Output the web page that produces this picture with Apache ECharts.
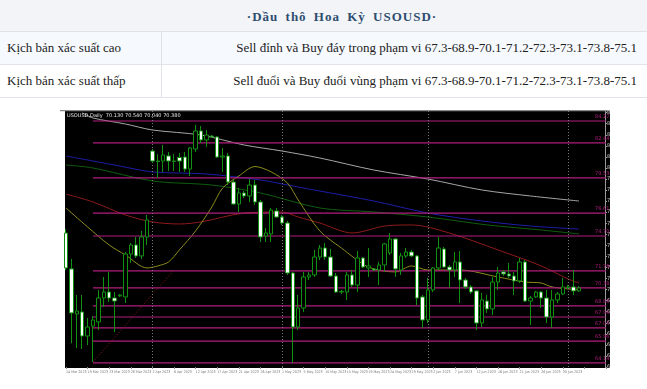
<!DOCTYPE html>
<html><head><meta charset="utf-8">
<script src="https://cdn.jsdelivr.net/npm/echarts/dist/echarts.min.js"></script>
<style>
html,body{margin:0;padding:0;width:647px;height:389px;overflow:hidden;background:#fff;}
#chart{position:absolute;left:0;top:0;width:647px;height:389px;}
.row{position:absolute;left:0;width:647px;box-sizing:border-box;font-family:"Liberation Serif","DejaVu Serif",serif;}
#r1{top:0;height:32px;background:#f2f4f7;border-bottom:1px solid #dfe3e8;text-align:center;line-height:32px;}
#r1 span{display:inline-block;padding-left:37px;font-weight:bold;font-size:13px;color:#2e4d6f;letter-spacing:1px;word-spacing:3px;}
#r2{top:32px;height:33px;background:#f6f9fe;border-bottom:1px solid #e1e5ea;}
#r3{top:65px;height:33px;background:#ffffff;border-bottom:1px solid #e1e5ea;}
.l{position:absolute;left:7px;top:0;line-height:32px;font-size:13px;color:#222;}
.r{position:absolute;right:10px;top:0;line-height:32px;font-size:13px;color:#222;}
#div{position:absolute;left:161px;top:32px;width:1px;height:66px;background:#dfe3e8;}
</style></head><body>
<div id="chart"></div>
<div class="row" id="r1"><span>·Dầu thô Hoa Kỳ USOUSD·</span></div>
<div class="row" id="r2"><div class="l">Kịch bản xác suất cao</div><div class="r">Sell đỉnh và Buy đáy trong phạm vi 67.3-68.9-70.1-71.2-72.3-73.1-73.8-75.1</div></div>
<div class="row" id="r3"><div class="l">Kịch bản xác suất thấp</div><div class="r">Sell đuổi và Buy đuổi vùng phạm vi 67.3-68.9-70.1-71.2-72.3-73.1-73.8-75.1</div></div>
<div id="div"></div>
<script>
// ---- data ----
const dates = [
 '14 Mar 2023','15 Mar 2023','16 Mar 2023','17 Mar 2023','19 Mar 2023','20 Mar 2023','21 Mar 2023','22 Mar 2023','23 Mar 2023','24 Mar 2023','26 Mar 2023','27 Mar 2023','28 Mar 2023','29 Mar 2023','30 Mar 2023','31 Mar 2023',
 '2 Apr 2023','3 Apr 2023','4 Apr 2023','5 Apr 2023','6 Apr 2023','9 Apr 2023','10 Apr 2023','11 Apr 2023','12 Apr 2023','13 Apr 2023','14 Apr 2023','16 Apr 2023','17 Apr 2023','18 Apr 2023','19 Apr 2023','20 Apr 2023','21 Apr 2023','23 Apr 2023','24 Apr 2023','25 Apr 2023','26 Apr 2023','27 Apr 2023','28 Apr 2023','30 Apr 2023',
 '1 May 2023','2 May 2023','3 May 2023','4 May 2023','5 May 2023','7 May 2023','8 May 2023','9 May 2023','10 May 2023','11 May 2023','12 May 2023','14 May 2023','15 May 2023','16 May 2023','17 May 2023','18 May 2023','19 May 2023','21 May 2023','22 May 2023','23 May 2023','24 May 2023','25 May 2023','26 May 2023','28 May 2023','29 May 2023','30 May 2023','31 May 2023',
 '1 Jun 2023','2 Jun 2023','4 Jun 2023','5 Jun 2023','6 Jun 2023','7 Jun 2023','8 Jun 2023','9 Jun 2023','11 Jun 2023','12 Jun 2023','13 Jun 2023','14 Jun 2023','15 Jun 2023','16 Jun 2023','18 Jun 2023','19 Jun 2023','20 Jun 2023','21 Jun 2023','22 Jun 2023','23 Jun 2023','25 Jun 2023','26 Jun 2023','27 Jun 2023','28 Jun 2023','29 Jun 2023','30 Jun 2023',
 '2 Jul 2023','3 Jul 2023','4 Jul 2023'
];
const blanks = [' ','  ','   ','    ','     '];
// [open, close, low, high]
const ohlc = [
 [74.95,72.04,71.87,75.28],[71.96,68.30,65.78,72.79],[68.21,68.46,65.38,69.79],[68.38,66.38,65.30,69.79],[66.38,67.13,65.63,67.88],
 [67.21,67.71,64.22,68.05],[67.55,69.54,66.88,70.21],[69.54,70.04,68.79,71.29],[70.04,69.54,69.21,71.71],[69.54,69.29,66.71,70.04],
 [69.71,69.79,69.63,69.88],[69.63,73.20,69.13,73.37],[73.20,73.95,72.46,74.12],[73.95,73.04,72.87,74.62],[73.04,74.62,72.79,75.12],
 [74.62,76.03,73.95,76.45],[81.77,80.94,80.77,81.94],[80.94,80.90,79.53,81.52],[80.94,81.44,80.03,82.27],[81.36,80.94,80.11,81.69],
 [80.90,80.94,80.11,81.52],[81.23,80.94,80.03,81.61],[81.27,80.27,80.03,81.69],[80.27,82.02,79.69,82.11],[81.94,83.44,81.69,83.94],
 [83.44,82.69,82.44,83.85],[82.69,83.10,82.11,83.52],[83.02,82.94,82.85,83.10],[82.94,81.27,81.19,83.02],[81.27,81.36,80.03,82.02],
 [81.36,79.19,78.94,81.61],[79.19,77.36,77.28,79.36],[77.36,78.28,76.70,78.69],[78.28,78.03,77.86,78.44],[78.03,78.94,77.53,79.44],
 [78.94,77.53,77.28,79.36],[77.53,74.62,74.20,77.70],[74.70,74.95,74.20,75.37],[74.87,76.86,74.20,77.03],[76.78,76.28,76.20,77.03],
 [76.28,75.78,75.62,76.45],[75.78,71.62,71.46,75.95],[71.62,67.13,64.14,71.71],[67.13,68.71,66.88,69.79],[68.71,71.29,68.38,71.71],
 [71.29,71.46,71.04,71.71],[71.46,72.95,71.29,73.54],[72.95,73.70,72.70,73.95],[73.70,72.95,72.70,74.12],[72.95,71.37,71.29,73.62],
 [71.37,70.04,69.96,71.62],[70.04,70.09,69.88,70.21],[70.04,71.46,69.38,71.71],[71.46,70.62,70.46,71.87],[70.62,72.87,70.04,73.45],
 [72.87,72.12,72.04,72.95],[72.04,72.21,71.29,73.70],[71.96,71.87,71.79,72.04],[71.87,72.29,70.62,72.54],[72.29,74.04,71.71,74.12],
 [73.29,74.45,73.12,74.95],[74.45,71.96,71.29,74.54],[71.87,73.04,71.46,73.29],[73.04,73.37,72.87,73.70],[73.37,73.04,72.95,73.54],
 [73.04,69.54,68.96,73.12],[69.63,67.71,67.05,69.79],[67.71,70.21,67.46,71.21],[70.21,72.04,70.04,72.12],[72.04,73.70,71.87,74.62],
 [73.62,72.12,72.04,73.79],[72.12,71.87,70.38,72.29],[71.87,72.54,71.29,73.37],[72.54,71.04,69.13,73.45],[71.04,70.46,70.29,71.21],
 [70.46,70.04,69.88,70.62],[70.13,67.46,66.88,70.21],[67.46,69.38,67.13,69.96],[69.29,68.63,68.30,69.79],[68.63,70.87,68.13,71.29],
 [70.87,71.62,70.21,72.12],[71.71,71.54,71.37,71.87],[71.54,71.37,71.21,72.46],[71.37,70.96,69.79,71.71],[70.96,72.54,70.79,72.87],
 [72.54,69.29,69.21,72.70],[69.29,69.54,67.30,69.71],[69.63,70.04,69.54,70.13],[70.04,69.54,68.71,70.13],[69.54,67.96,67.46,70.21],
 [67.96,69.38,67.05,70.21],[69.38,69.88,69.13,70.04],[69.88,70.46,69.79,71.21],[70.42,70.46,70.29,70.62],[70.46,70.13,69.79,71.87],
 [70.13,70.38,70.04,70.54]
];
const maGray = [['17 Mar 2023',84.95],['20 Mar 2023',84.52],['27 Mar 2023',84.02],['2 Apr 2023',83.52],['13 Apr 2023',83.10],['23 Apr 2023',82.27],['1 May 2023',81.77],['9 May 2023',81.19],['21 May 2023',80.19],['1 Jun 2023',79.44],['13 Jun 2023',78.53],['23 Jun 2023',78.03],['4 Jul 2023',77.61]];
const maBlue = [['14 Mar 2023',81.36],['20 Mar 2023',80.94],['26 Mar 2023',80.52],['2 Apr 2023',80.03],['14 Apr 2023',79.86],['26 Apr 2023',79.36],['1 May 2023',79.03],['9 May 2023',78.44],['21 May 2023',77.61],['1 Jun 2023',76.61],['13 Jun 2023',75.95],['23 Jun 2023',75.53],['4 Jul 2023',75.28]];
const maGreen = [['14 Mar 2023',80.61],['20 Mar 2023',80.36],['2 Apr 2023',79.28],['16 Apr 2023',78.94],['26 Apr 2023',78.28],['9 May 2023',77.03],['21 May 2023',76.70],['1 Jun 2023',76.28],['14 Jun 2023',75.62],['26 Jun 2023',75.20],['4 Jul 2023',74.87]];
const maRed = [['14 Mar 2023',78.19],['20 Mar 2023',77.53],['27 Mar 2023',76.45],['2 Apr 2023',75.87],['9 Apr 2023',75.70],['13 Apr 2023',75.87],['23 Apr 2023',76.61],['1 May 2023',76.70],['4 May 2023',76.28],['9 May 2023',75.78],['16 May 2023',74.95],['23 May 2023',75.53],['29 May 2023',75.62],['6 Jun 2023',74.95],['16 Jun 2023',73.54],['26 Jun 2023',72.21],['2 Jul 2023',71.12],['4 Jul 2023',70.79]];
const maOlive = [['14 Mar 2023',77.03],['19 Mar 2023',75.45],['23 Mar 2023',73.95],['27 Mar 2023',73.12],['31 Mar 2023',72.04],['3 Apr 2023',72.21],['5 Apr 2023',72.54],['9 Apr 2023',73.54],['12 Apr 2023',75.12],['16 Apr 2023',77.11],['18 Apr 2023',78.69],['21 Apr 2023',79.69],['25 Apr 2023',80.48],['28 Apr 2023',80.03],['2 May 2023',79.11],['4 May 2023',77.70],['9 May 2023',75.12],['14 May 2023',73.70],['19 May 2023',72.12],['25 May 2023',71.71],['29 May 2023',72.21],['1 Jun 2023',71.87],['8 Jun 2023',71.87],['16 Jun 2023',71.29],['22 Jun 2023',70.87],['26 Jun 2023',70.79],['28 Jun 2023',70.46],['4 Jul 2023',70.21]];
const levels = [84.27, 82.44, 79.53, 76.61, 74.70, 71.79, 70.38, 68.88, 67.96, 67.05, 65.96, 64.14];
const levelStart = '20 Mar 2023';
const separators = ['2 Apr 2023','1 May 2023','1 Jun 2023','2 Jul 2023'];
const trendLine = [['20 Mar 2023',64.22],['6 Apr 2023',71.87]];
const yMin = 63.8, yMax = 85.1, yStep = 0.92;

// ---- chart ----
const categories = dates.concat(blanks);
const lastCat = categories[categories.length-1];
const MAG = '#b01e7e', GREEN = '#129012';
const last = ohlc[ohlc.length-1];
const chart = echarts.init(document.getElementById('chart'));
const maLine = (data, color) => ({type:'line', data, smooth:0.3, symbol:'none', z:2, silent:true,
  lineStyle:{color, width:1}});
const levelSeries = levels.map(v => ({
  type:'line', z:3, silent:true, symbol:'none', data:[[levelStart, v],[lastCat, v]],
  lineStyle:{color:MAG, width:1.2},
  endLabel:{show:true, formatter:()=>v.toFixed(2), color:MAG, fontSize:5, fontFamily:'DejaVu Sans', offset:[-19,-4]}
}));
chart.setOption({
  animation:false,
  grid:{left:63.3, top:111, width:545.4, height:256},
  xAxis:{type:'category', data:categories, boundaryGap:true,
    axisLine:{show:false},
    axisTick:{show:true, interval:3, alignWithLabel:true, length:2, lineStyle:{color:'#888'}},
    axisLabel:{interval:3, fontSize:3.6, color:'#777', align:'left', margin:3,
      fontFamily:'"DejaVu Sans Condensed","Liberation Sans Narrow","DejaVu Sans"', hideOverlap:false},
    splitLine:{show:false}},
  yAxis:{type:'value', position:'right', offset:-3.7, min:yMin, max:yMax, interval:yStep, scale:true,
    axisLine:{show:true, lineStyle:{color:'#9a9a9a'}},
    axisTick:{show:true, length:2, lineStyle:{color:'#9a9a9a'}},
    axisLabel:{fontSize:5, color:'#cfcfcf', margin:2, fontFamily:'DejaVu Sans', formatter:v=>v.toFixed(3)},
    splitLine:{show:false}},
  graphic:[
    {type:'rect', z:-1, silent:true, shape:{x:65, y:111, width:545, height:257}, style:{fill:'#000'}},
    {type:'rect', z:-1, silent:true, shape:{x:60, y:110, width:551, height:1.2}, style:{fill:'#8a8a8a'}},
    {type:'rect', z:100, silent:true, shape:{x:610, y:104, width:37, height:285}, style:{fill:'#fff'}},
    {type:'text', z:50, silent:true, left:67, top:113,
      style:{text:'USOUSD,Daily  '+last[0].toFixed(3)+' '+last[3].toFixed(3)+' '+last[2].toFixed(3)+' '+last[1].toFixed(3),
        fill:'#e8e8e8', fontSize:5, fontFamily:'DejaVu Sans'}}
  ],
  series:[
    maLine(maGray,'#a6a6a6'),
    maLine(maBlue,'#1d1da8'),
    maLine(maGreen,'#0f5e0f'),
    maLine(maRed,'#8e1b1b'),
    maLine(maOlive,'#8c8c1c'),
    ...levelSeries,
    {type:'line', z:3, silent:true, symbol:'none', data:trendLine,
      lineStyle:{color:'#9a1e1e', width:1, type:[1,2]}},
    {type:'candlestick', z:5, data:ohlc, barWidth:4,
      itemStyle:{color:'#000', color0:'#fff', borderColor:GREEN, borderColor0:GREEN, borderWidth:1},
      markLine:{silent:true, symbol:['none','none'], animation:false,
        data:[
          ...separators.map(d=>({xAxis:d, lineStyle:{color:'#777', width:1, type:[1,2]}, label:{show:false}})),
          {yAxis:last[1], lineStyle:{opacity:0}, label:{show:true, position:'end', distance:-1, formatter:last[1].toFixed(3),
            backgroundColor:'#fff', color:'#000', fontSize:5, padding:[1,1], fontFamily:'DejaVu Sans'}}
        ]}}
  ]
});
</script>
</body></html>
